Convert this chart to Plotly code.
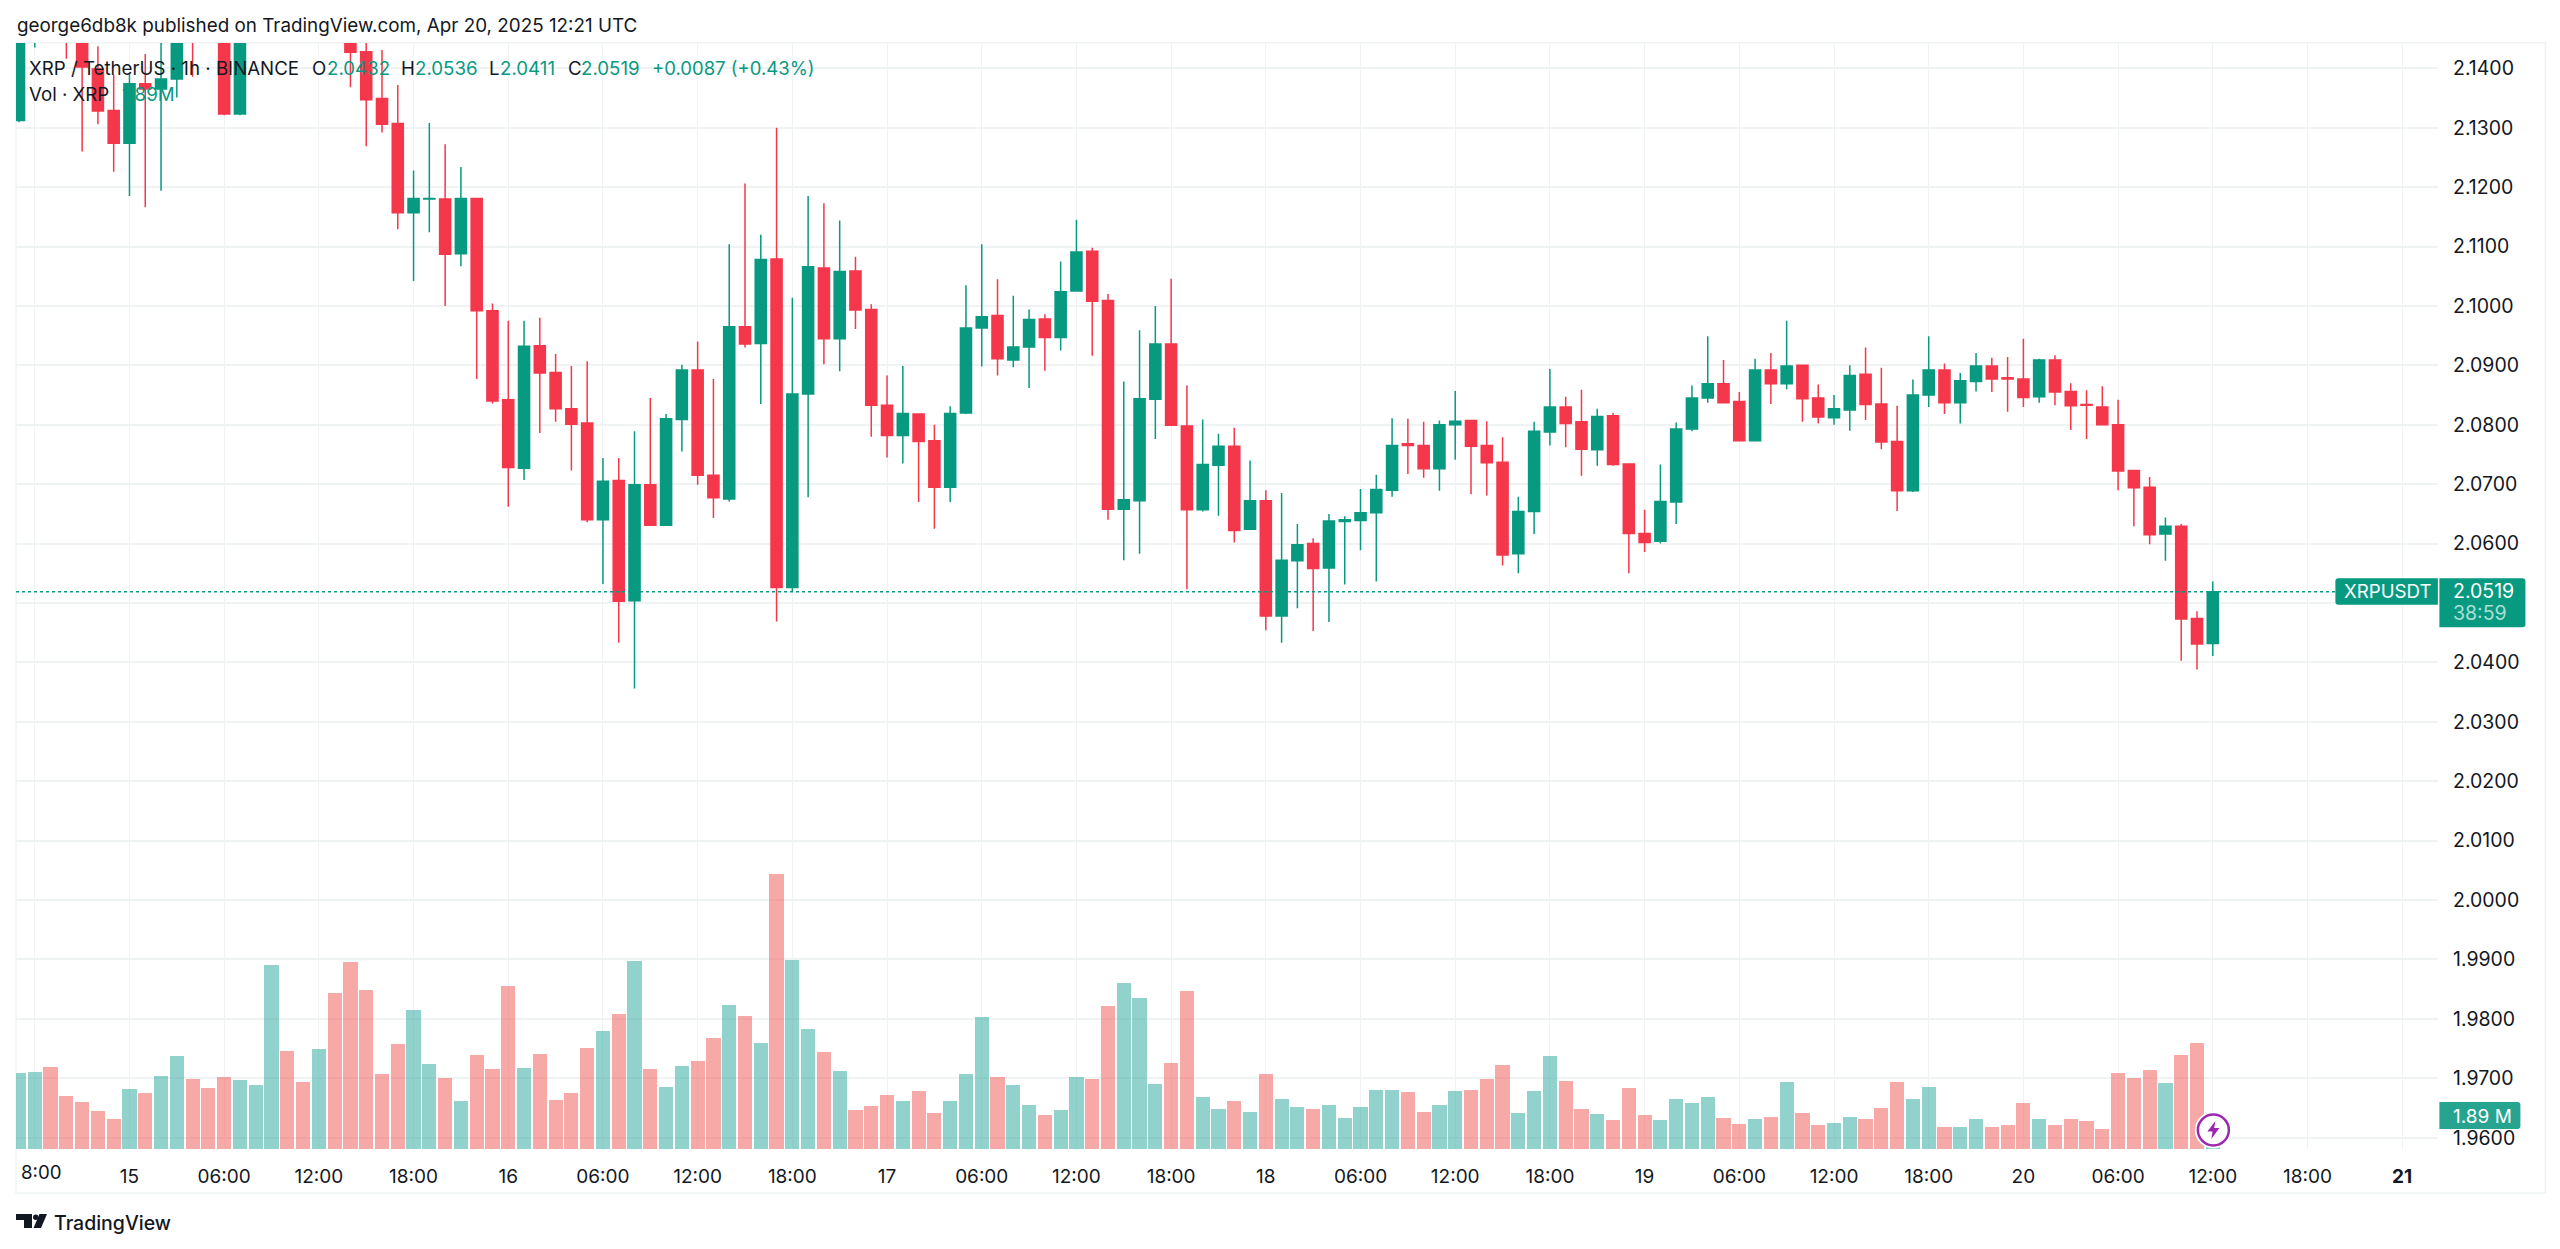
import pandas as pd
import plotly.graph_objects as go

START = "2025-04-14 17:00"

opens = [2.1312,2.146,2.152,2.150,2.147,2.1399,2.1329,
 2.1274,2.1374,2.1365,2.1382,2.150,2.155,2.150,2.1323,2.150,2.155,2.165,2.160,
 2.152,2.156,2.148,2.1428,2.1349,2.1307,2.1157,2.118,2.1180,2.1088,2.1181,2.0992,
 2.0842,2.0727,2.0933,2.0888,2.0827,2.0803,2.064,2.0706,2.0504,2.0699,2.0631,2.0809,
 2.0892,2.0715,2.0675,2.0965,2.0937,2.1079,2.0526,2.0852,2.1064,2.0945,2.1059,2.0994,
 2.0833,2.0782,2.0818,2.0773,2.0695,2.082,2.0963,2.0984,2.0909,2.0931,2.0978,2.0947,
 2.1025,2.1092,2.1009,2.0658,2.0672,2.0843,2.0936,2.0798,2.0657,2.0732,2.0764,2.0624,
 2.0672,2.0478,2.0571,2.06,2.0559,2.0637,2.0639,2.0652,2.069,2.0768,2.0765,2.0726,
 2.08,2.0807,2.0765,2.0737,2.0583,2.0654,2.0788,2.083,2.0805,2.0758,2.0815,2.0734,
 2.0617,2.0604,2.067,2.0793,2.0845,2.0869,2.0839,2.0773,2.0892,2.0869,2.09,2.0845,
 2.0812,2.0825,2.0885,2.0835,2.0772,2.0689,2.085,2.0892,2.0837,2.0873,2.0899,2.0879,
 2.0877,2.0847,2.0909,2.0856,2.0834,2.083,2.08,2.0723,2.0695,2.0616,2.0629,2.0474,2.0432]

highs = [2.152,2.152,2.153,2.152,2.149,2.1437,2.1389,
 2.139,2.1424,2.147,2.148,2.152,2.157,2.152,2.152,2.158,2.168,2.168,2.163,
 2.158,2.158,2.150,2.146,2.1431,2.1372,2.1228,2.1308,2.1272,2.1234,2.1182,2.1004,
 2.0975,2.0975,2.098,2.0919,2.0899,2.0907,2.0744,2.0744,2.0789,2.0845,2.0818,2.0901,
 2.094,2.0877,2.1104,2.1206,2.112,2.13,2.1014,2.1185,2.1173,2.1144,2.1083,2.1003,
 2.0883,2.0899,2.0818,2.08,2.0831,2.1035,2.1104,2.1045,2.1017,2.0994,2.0986,2.1075,
 2.1145,2.1098,2.102,2.0873,2.0959,2.1,2.1046,2.0866,2.0809,2.0785,2.0795,2.074,
 2.069,2.0685,2.0633,2.0609,2.065,2.0646,2.0692,2.0716,2.0811,2.081,2.0805,2.0807,
 2.0857,2.0808,2.0806,2.0779,2.0679,2.0805,2.0894,2.0847,2.0859,2.0827,2.082,2.0734,
 2.0657,2.0733,2.0804,2.0866,2.0949,2.0909,2.0855,2.0911,2.0921,2.0975,2.09,2.0868,
 2.085,2.09,2.093,2.0896,2.0832,2.0876,2.0949,2.0903,2.0887,2.0921,2.0913,2.0914,
 2.0945,2.0911,2.0917,2.087,2.0858,2.0865,2.0842,2.0723,2.0712,2.0644,2.0633,2.0486,2.0536]

lows = [2.1309,2.1435,2.145,2.1416,2.126,2.1306,2.1226,
 2.1185,2.1166,2.1194,2.1351,2.1386,2.147,2.1321,2.1321,2.147,2.150,2.157,2.150,
 2.150,2.146,2.1368,2.1269,2.1292,2.1129,2.1042,2.1124,2.1,2.1067,2.0877,2.0836,
 2.0662,2.0707,2.0786,2.0805,2.0723,2.0636,2.0532,2.0433,2.0356,2.0631,2.063,2.0755,
 2.0699,2.0643,2.0671,2.093,2.0835,2.0469,2.0519,2.0678,2.0902,2.089,2.0961,2.078,
 2.0745,2.0735,2.067,2.0625,2.067,2.0818,2.0898,2.0883,2.0897,2.0862,2.0891,2.0925,
 2.1025,2.0916,2.064,2.0572,2.0583,2.0776,2.0799,2.0523,2.0654,2.0647,2.0602,2.0624,
 2.0454,2.0433,2.0491,2.0453,2.0468,2.0531,2.0589,2.0536,2.0679,2.0717,2.0711,2.0689,
 2.0741,2.0683,2.0681,2.0563,2.055,2.0616,2.0765,2.0762,2.0714,2.0731,2.0731,2.055,
 2.0586,2.06,2.0633,2.0789,2.0837,2.0836,2.0772,2.0772,2.0835,2.086,2.0805,2.0802,
 2.08,2.079,2.0808,2.0759,2.0655,2.0687,2.083,2.0818,2.0802,2.0856,2.0855,2.0822,
 2.083,2.0837,2.0833,2.0791,2.0776,2.08,2.069,2.0629,2.0599,2.0571,2.0403,2.0388,2.0411]

closes = [2.150,2.150,2.148,2.147,2.1402,2.1328,2.1274,
 2.1374,2.1365,2.1382,2.146,2.1455,2.150,2.1323,2.150,2.155,2.165,2.160,2.152,
 2.156,2.148,2.1427,2.1347,2.1306,2.1157,2.1181,2.1181,2.1087,2.1181,2.0992,2.084,
 2.0728,2.0932,2.0887,2.0827,2.0801,2.064,2.0705,2.0503,2.0699,2.0631,2.081,2.0892,
 2.0715,2.0677,2.0965,2.0936,2.1078,2.0526,2.0852,2.1066,2.0945,2.1058,2.0993,2.0833,
 2.0782,2.0819,2.0772,2.0695,2.0819,2.0963,2.0982,2.0911,2.0931,2.0977,2.0947,2.1024,
 2.1091,2.1008,2.0658,2.0674,2.0844,2.0936,2.0799,2.0657,2.0733,2.0764,2.0622,2.0672,
 2.0478,2.0572,2.0598,2.0558,2.0638,2.064,2.0652,2.0691,2.0765,2.0765,2.0726,2.08,
 2.0806,2.0764,2.0736,2.0581,2.0654,2.0789,2.083,2.0802,2.0759,2.0814,2.0733,2.0617,
 2.0602,2.0671,2.0793,2.0845,2.0869,2.0837,2.0773,2.0892,2.0869,2.0899,2.0844,2.0813,
 2.0827,2.0883,2.0834,2.0771,2.0689,2.085,2.0892,2.0837,2.0874,2.0899,2.0877,2.0877,
 2.0846,2.0909,2.0855,2.0832,2.0833,2.08,2.0722,2.0694,2.0615,2.0629,2.0473,2.0431,2.0519]

volumes_m = [57.3,57.8,61.8,39.5,35.3,28.3,22.3,
 45.3,41.8,54.8,70,52.5,46,54.3,51.5,48.3,138,73.8,50,
 74.8,116.8,140.5,119,56.5,79,104.3,63.5,53.5,36,70.8,60.3,
 122,61,71.3,37,42.3,76,88.3,101.5,141,60.3,46.5,62.5,
 66,83,108,99.5,79.5,206.5,142,90.3,73,58.3,29.5,32,
 40.3,36,43.3,27.3,36,56,99.3,54.3,47.8,33,25.5,29,
 54.3,52.5,107,124.5,113.5,49,64.3,118.8,39,30.3,36,27.8,
 56,37.3,31.5,30.3,33,23,31.5,44.3,44.3,42.5,27.8,33,
 43.8,44.3,52.5,63.3,27.3,43.8,69.5,50.8,30,26,21.8,45.5,
 25.5,21.8,37.3,34.3,39,23,19,22.5,23.8,50.3,26.8,17.8,
 19.5,23.8,22.5,30.8,50.3,37.3,46.8,16.5,16.5,22.5,16.5,17.8,
 34.3,22.5,17.8,22.5,21.3,14.8,56.8,53.3,59,49.5,70.3,79.3,1.89]

price_ticks = [1.96,1.97,1.98,1.99,2.00,2.01,2.02,2.03,2.04,2.05,2.06,2.07,2.08,2.09,2.10,2.11,2.12,2.13,2.14]
hidden_price_tick = 2.05   # sits under the last-price tag
time_tick_times = pd.date_range("2025-04-14 18:00", "2025-04-21 00:00", freq="6h")
time_tick_labels = ["","15","06:00","12:00","18:00","16","06:00","12:00","18:00","17","06:00","12:00","18:00",
                    "18","06:00","12:00","18:00","19","06:00","12:00","18:00","20","06:00","12:00","18:00","<b>21</b>"]

times = pd.date_range(START, periods=len(closes), freq="h")
assert len(opens) == len(highs) == len(lows) == len(closes) == len(volumes_m) == 140

# ---- page geometry (pixels) ----
W, H = 2560, 1249
L, R, T, B = 16, 2437.6, 42.7, 1149
def px(x): return (x - L) / (R - L)
def py(y): return (B - y) / (B - T)

TEAL, RED, INK = "#089981", "#F23645", "#131722"
FONT = "Inter"
GRID = "#f0f3f4"

fig = go.Figure()
fig.add_trace(go.Bar(
    x=times, y=volumes_m, yaxis="y2", width=3.24e6,
    marker=dict(color=["rgba(38,166,154,0.5)" if c >= o else "rgba(239,83,80,0.5)" for o, c in zip(opens, closes)],
                line=dict(width=0)),
    hoverinfo="skip", showlegend=False))
fig.add_trace(go.Candlestick(
    x=times, open=opens, high=highs, low=lows, close=closes,
    increasing=dict(line=dict(color=TEAL, width=1.5), fillcolor=TEAL),
    decreasing=dict(line=dict(color="#F5374B", width=1.5), fillcolor="#F5374B"),
    whiskerwidth=0, showlegend=False))

def ann(x, y, text, color=INK, size=19, anchor="left", weight=None):
    fig.add_annotation(xref="paper", yref="paper", x=px(x), y=py(y), text=text, showarrow=False,
                       xanchor=anchor, yanchor="middle", align=anchor,
                       font=dict(family=FONT, size=size, color=color, weight=weight), borderpad=0)

ann(16, 25, "george6db8k published on TradingView.com, Apr 20, 2025 12:21 UTC", size=18.85)
ann(28, 68, "XRP / TetherUS · 1h · BINANCE", size=18.7)
for x, label in [(311, "O"), (400, "H"), (488, "L"), (567, "C")]:
    ann(x, 68, label, size=18.7)
for x, label in [(326, opens[-1]), (414, highs[-1]), (499, lows[-1]), (580, closes[-1])]:
    ann(x, 68, f"{label:.4f}", TEAL, size=18.7)
ann(651, 68, f"+{closes[-1]-opens[-1]:.4f} (+{(closes[-1]-opens[-1])/opens[-1]*100:.2f}%)", TEAL, size=18.5)
ann(28, 94, "Vol · XRP", size=18.7)
ann(121, 94, f"{volumes_m[-1]:.2f}M", TEAL, size=18.7)
ann(20, 1173, "8:00", size=18.7)

# price / volume tags, rounded on their outer corners
def tag(x0, y0, x1, y1, color, round_left=False, round_right=False):
    r = 3
    rl, rr = (r if round_left else 0), (r if round_right else 0)
    P = lambda a, b: f"{px(a):.6f},{py(b):.6f}"
    path = (f"M {P(x0+rl,y0)} L {P(x1-rr,y0)} Q {P(x1,y0)} {P(x1,y0+rr)} L {P(x1,y1-rr)} Q {P(x1,y1)} {P(x1-rr,y1)} "
            f"L {P(x0+rl,y1)} Q {P(x0,y1)} {P(x0,y1-rl)} L {P(x0,y0+rl)} Q {P(x0,y0)} {P(x0+rl,y0)} Z")
    fig.add_shape(type="path", xref="paper", yref="paper", path=path, fillcolor=color, line=dict(width=0), layer="above")

tag(2335, 578, 2437.5, 604.5, TEAL, round_left=True)
tag(2439, 578, 2525, 627, TEAL, round_right=True)
tag(2439, 1102, 2520, 1129, "#27A48F", round_right=True)
ann(2343, 591, "XRPUSDT", "#ffffff", size=18.7)
ann(2452, 591, f"{closes[-1]:.4f}", "#ffffff", size=19.5)
ann(2452, 613, "38:59", "#a9dfd4", size=19.5)
ann(2452, 1116, f"{volumes_m[-1]:.2f} M", "#ffffff", size=19)

# last price line
fig.add_shape(type="line", xref="paper", yref="y", x0=0, x1=px(2335), y0=closes[-1], y1=closes[-1],
              line=dict(color=TEAL, width=1.5, dash="dot"), layer="above")

# chart frame
fig.add_shape(type="rect", xref="paper", yref="paper", x0=px(16), x1=px(2545), y0=py(1193), y1=py(42.5),
              line=dict(color="#f0f3f4", width=1.5), layer="below")

# lightning badge
cx, cy = 2213, 1130
fig.add_shape(type="circle", xref="paper", yref="paper", x0=px(cx-18.5), x1=px(cx+18.5), y0=py(cy+18.5), y1=py(cy-18.5),
              fillcolor="#ffffff", line=dict(width=0), layer="above")
fig.add_shape(type="circle", xref="paper", yref="paper", x0=px(cx-15.5), x1=px(cx+15.5), y0=py(cy+15.5), y1=py(cy-15.5),
              fillcolor="#ffffff", line=dict(color="#9C27B0", width=2.5), layer="above")
bolt = [(2,-9),(-6,1.5),(-0.8,1.5),(-2,9),(6,-2),(0.8,-2)]
fig.add_shape(type="path", xref="paper", yref="paper",
              path="M " + " L ".join(f"{px(cx+a):.6f},{py(cy+b):.6f}" for a, b in bolt) + " Z",
              fillcolor="#9C27B0", line=dict(width=0), layer="above")

# TradingView logo
def poly(points, color=INK):
    fig.add_shape(type="path", xref="paper", yref="paper",
                  path="M " + " L ".join(f"{px(a):.6f},{py(b):.6f}" for a, b in points) + " Z",
                  fillcolor=color, line=dict(width=0), layer="above")
poly([(16,1214),(32,1214),(32,1228),(24,1228),(24,1220),(16,1220)])
poly([(39.5,1214),(47,1214),(41,1228),(33.5,1228)])
fig.add_shape(type="circle", xref="paper", yref="paper", x0=px(33), x1=px(38.5), y0=py(1220), y1=py(1214.5),
              fillcolor=INK, line=dict(width=0), layer="above")
ann(53, 1223, "TradingView", size=19.5, weight=500)

vol_range_top = (B - T) * 0.75
x0 = pd.Timestamp(START) + pd.Timedelta(hours=-0.19)
x1 = pd.Timestamp(START) + pd.Timedelta(hours=153.27)

fig.update_layout(
    width=W, height=H, autosize=False,
    margin=dict(l=L, r=W - R, t=T, b=H - B, pad=0),
    paper_bgcolor="#ffffff", plot_bgcolor="#ffffff",
    boxgap=0.22, boxgroupgap=0.1, bargap=0, showlegend=False,
    font=dict(family=FONT, color=INK, size=19),
    xaxis=dict(type="date", range=[x0, x1], rangeslider=dict(visible=False), tickmode="array",
               tickvals=list(time_tick_times), ticktext=time_tick_labels, ticks="", showline=False,
               showgrid=True, gridcolor=GRID, gridwidth=1, zeroline=False, tickfont=dict(size=19, color=INK),
               ticklabelstandoff=14),
    yaxis=dict(side="right", range=[1.9581, 2.14426], tickmode="array", tickvals=price_ticks,
               ticktext=["" if p == hidden_price_tick else f"{p:.4f}" for p in price_ticks], ticks="", showline=False,
               showgrid=True, gridcolor=GRID, gridwidth=1.5, zeroline=False, tickfont=dict(size=19.5, color=INK),
               ticklabelstandoff=14),
    yaxis2=dict(overlaying="y", range=[0, vol_range_top], visible=False, fixedrange=True),
    hovermode=False,
)

fig.write_html("out.html", config={"displayModeBar": False},
               post_script="document.body.style.margin='0';document.body.style.overflow='hidden';")
